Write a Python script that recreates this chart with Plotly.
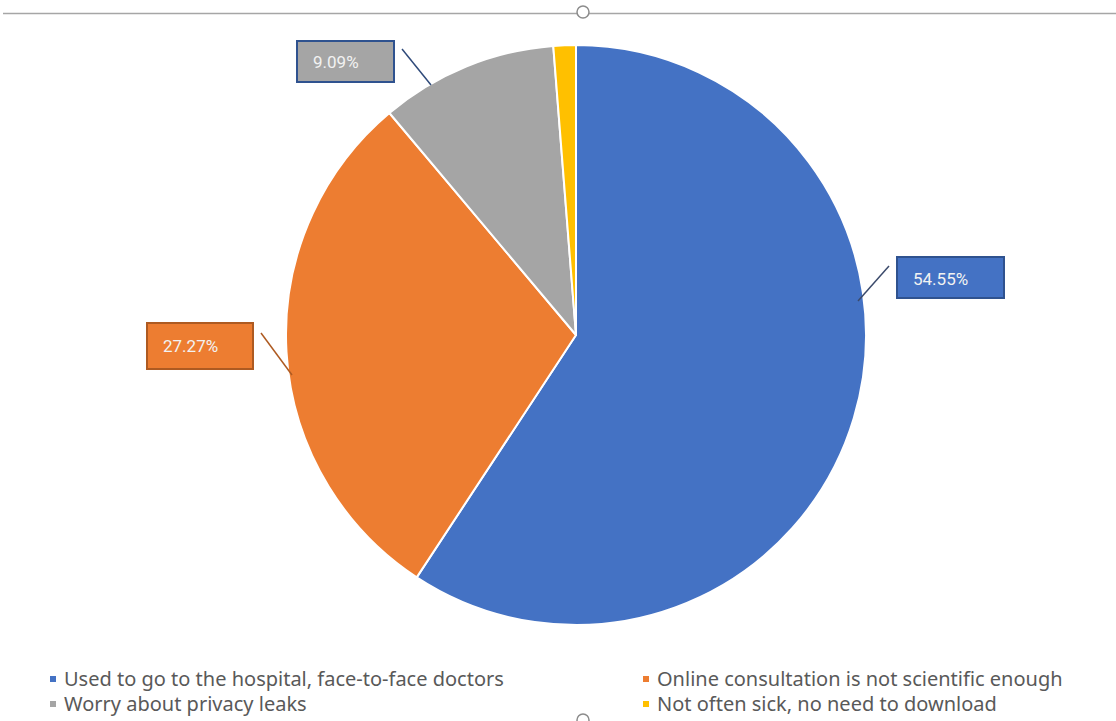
import plotly.graph_objects as go

W, H = 1116, 721

categories = [
    "Used to go to the hospital, face-to-face doctors",
    "Online consultation is not scientific enough",
    "Worry about privacy leaks",
    "Not often sick, no need to download",
]
values = [54.55, 27.27, 9.09, 1.15]
label_texts = ["54.55%", "27.27%", "9.09%", None]
colors = ["#4472C4", "#ED7D31", "#A5A5A5", "#FFC000"]


def px(x):
    return x / W


def py(y):
    return 1 - y / H


# pie geometry (pixels)
cx, cy, r = 576, 335, 290

fig = go.Figure(
    go.Pie(
        labels=categories,
        values=values,
        sort=False,
        direction="clockwise",
        rotation=0,
        marker=dict(colors=colors, line=dict(color="white", width=2)),
        textinfo="none",
        hoverinfo="label+value",
        showlegend=False,
        domain=dict(x=[px(cx - r), px(cx + r)], y=[py(cy + r), py(cy - r)]),
    )
)

shapes = []
annotations = []

# top frame line and selection handles
shapes.append(dict(type="line", xref="paper", yref="paper", x0=px(3), x1=px(1116),
                   y0=py(13.5), y1=py(13.5), line=dict(color="#A6A6A6", width=1.5)))
for hy in (12, 720):
    shapes.append(dict(type="circle", xref="paper", yref="paper",
                       x0=px(577), x1=px(589), y0=py(hy + 6), y1=py(hy - 6),
                       line=dict(color="#8C8C8C", width=1.5), fillcolor="white"))

# data label boxes: (box x0, y0, x1, y1, text-left, leader line, border colour, leader colour)
label_layout = [
    dict(box=(897, 257, 1004, 298), tx=911, ty=279, line=((889, 266), (858, 301)),
         border="#2F528F", lead="#3B4A6B"),
    dict(box=(147, 323, 253, 369), tx=161, ty=346, line=((261, 333), (292, 375)),
         border="#AE5A21", lead="#AE5A21"),
    dict(box=(297, 41, 394, 82), tx=311, ty=62, line=((402, 49), (431, 85)),
         border="#2F528F", lead="#2F4A7A"),
]
for i, lay in enumerate(label_layout):
    if label_texts[i] is None:
        continue
    x0, y0, x1, y1 = lay["box"]
    shapes.append(dict(type="rect", xref="paper", yref="paper",
                       x0=px(x0), x1=px(x1), y0=py(y1), y1=py(y0),
                       fillcolor=colors[i], line=dict(color=lay["border"], width=2)))
    (lx0, ly0), (lx1, ly1) = lay["line"]
    shapes.append(dict(type="line", xref="paper", yref="paper",
                       x0=px(lx0), y0=py(ly0), x1=px(lx1), y1=py(ly1),
                       line=dict(color=lay["lead"], width=1.5)))
    annotations.append(dict(xref="paper", yref="paper", x=px(lay["tx"]), y=py(lay["ty"]),
                            xanchor="left", yanchor="middle", showarrow=False,
                            text=label_texts[i],
                            font=dict(family="Roboto", size=17, color="#F2F2F2")))

# legend (two columns)
leg_pos = [(50, 679), (643, 679), (50, 704), (643, 704)]
for i, (lx, ly) in enumerate(leg_pos):
    shapes.append(dict(type="rect", xref="paper", yref="paper",
                       x0=px(lx), x1=px(lx + 6), y0=py(ly + 3), y1=py(ly - 3),
                       fillcolor=colors[i], line=dict(width=0)))
    annotations.append(dict(xref="paper", yref="paper", x=px(lx + 12), y=py(ly - 1),
                            xanchor="left", yanchor="middle", showarrow=False,
                            text=categories[i],
                            font=dict(family="Noto Sans", size=20, color="#595959")))

fig.update_layout(
    width=W, height=H,
    margin=dict(l=0, r=0, t=0, b=0),
    paper_bgcolor="white", plot_bgcolor="white",
    shapes=shapes, annotations=annotations,
)

fig.write_html("out.html")
